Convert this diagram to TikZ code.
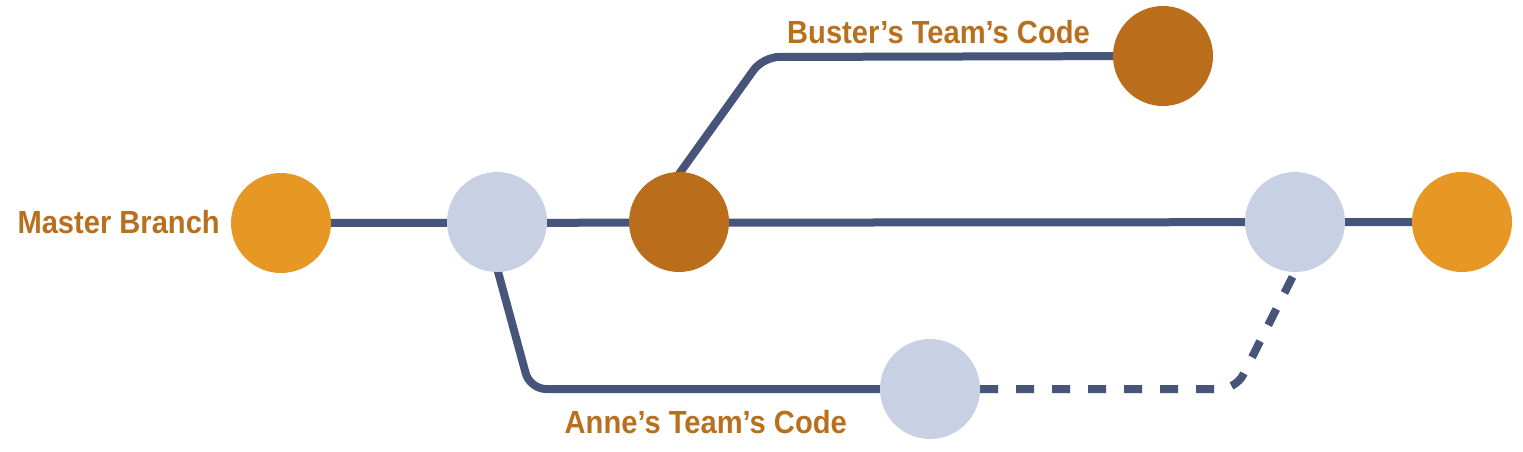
\documentclass[tikz,border=0pt]{standalone}
\usepackage{fontspec}
\newfontfamily\labfont[FakeStretch=0.91]{Liberation Sans}
\definecolor{cOrange}{HTML}{E69724}
\definecolor{cBrown}{HTML}{BA6E1B}
\definecolor{cLight}{HTML}{C8D1E3}
\definecolor{cLine}{HTML}{48557A}
\definecolor{cText}{HTML}{B8701F}
\tikzset{
  commit/.style={circle, minimum size=100pt, inner sep=0pt},
  orangec/.style={commit, fill=cOrange},
  brownc/.style={commit, fill=cBrown},
  lightc/.style={commit, fill=cLight},
  branchline/.style={draw=cLine, line width=8pt},
  dashline/.style={branchline, dash pattern=on 18pt off 18pt},
  lab/.style={text=cText, font=\labfont\bfseries\fontsize{32}{36}\selectfont, inner sep=0pt}
}
\begin{document}
\begin{tikzpicture}[x=1pt,y=-1pt]
\useasboundingbox (0,0) rectangle (1523,452);
% connectors first (under nodes)
\coordinate (m) at (281,223);
\coordinate (a1) at (497,222);
\coordinate (b1) at (679,222);
\coordinate (r1) at (1295,222);
\coordinate (r2) at (1462,222);
\coordinate (bu) at (1163,56);
\coordinate (an) at (930,389);
\coordinate (bstart) at (679,174);
\coordinate (bcorner) at (763,57);
\coordinate (astart) at (497,268);
\coordinate (acorner) at (530,389);
\coordinate (dcorner) at (1236,389);
\coordinate (dend) at (1296,270);
\draw[branchline] (m) -- (r2);
\draw[branchline, rounded corners=16pt] (bstart) -- (bcorner) -- (bu);
\draw[branchline, rounded corners=16pt] (astart) -- (acorner) -- (an);
\draw[dashline, rounded corners=16pt] (980,389) -- (dcorner) -- (dend);
% commits
\node[orangec] (master) at (m) {};
\node[lightc] (c1) at (a1) {};
\node[brownc] (c2) at (b1) {};
\node[lightc] (c3) at (r1) {};
\node[orangec] (c4) at (r2) {};
\node[brownc] (buster) at (bu) {};
\node[lightc] (anne) at (an) {};
% labels
\node[lab, anchor=base east] (lm) at (220,233) {Master Branch};
\node[lab, anchor=base east] (lb) at (1090,44) {Buster’s Team’s Code};
\node[lab, anchor=base east] (la) at (847,433) {Anne’s Team’s Code};
\end{tikzpicture}
\end{document}
